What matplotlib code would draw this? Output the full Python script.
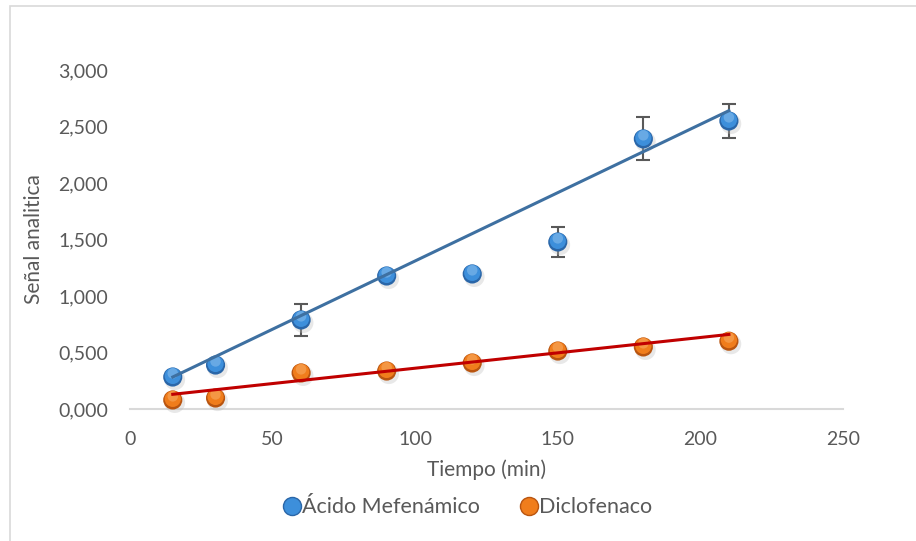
import matplotlib.pyplot as plt
import matplotlib.transforms as mtransforms
from matplotlib.lines import Line2D
from matplotlib.patches import Rectangle

# Data
tiempo = [15, 30, 60, 90, 120, 150, 180, 210]
mefenamico = [0.283, 0.389, 0.788, 1.177, 1.195, 1.478, 2.390, 2.549]
mefenamico_err = [0.0, 0.0, 0.14, 0.0, 0.03, 0.13, 0.19, 0.15]
diclofenaco = [0.080, 0.097, 0.319, 0.336, 0.407, 0.513, 0.549, 0.600]

# Trendlines as drawn in the chart (endpoints)
trend_x = [15, 210]
trend_mefenamico = [0.283, 2.640]
trend_diclofenaco = [0.130, 0.660]

x_ticks = [0, 50, 100, 150, 200, 250]
y_ticks = [0.0, 0.5, 1.0, 1.5, 2.0, 2.5, 3.0]

text_color = '#595959'
plt.rcParams['font.family'] = ['Lato', 'DejaVu Sans']

fig = plt.figure(figsize=(9.16, 5.41), dpi=100)
ax = fig.add_axes([0.1419, 0.244, 0.7784, 0.6266])

# light frame around the chart area
fig.patches.append(Rectangle((10 / 916, -0.1), 1.2, 1 - 6 / 541 + 0.1,
                             transform=fig.transFigure, fill=False,
                             edgecolor='#d9d9d9', linewidth=1.2))


def spheres(ax, x, y, base, dark, light, size=190, z=5):
    """Draw markers that look a bit like shaded balls"""
    ax.scatter(x, y, s=size * 1.15, color='#bfbfbf', alpha=0.35, edgecolors='none',
               zorder=z, transform=mtransforms.offset_copy(ax.transData, fig=fig, x=1.5, y=-2, units='points'),
               clip_on=False)
    ax.scatter(x, y, s=size, color=dark, edgecolors='none', zorder=z + 0.1, clip_on=False)
    ax.scatter(x, y, s=size * 0.72, color=base, edgecolors='none', zorder=z + 0.2, clip_on=False,
               transform=mtransforms.offset_copy(ax.transData, fig=fig, x=0, y=0.8, units='points'))
    ax.scatter(x, y, s=size * 0.3, color=light, edgecolors='none', zorder=z + 0.3, alpha=0.35, clip_on=False,
               transform=mtransforms.offset_copy(ax.transData, fig=fig, x=0, y=2.6, units='points'))


# error bars
ax.errorbar(tiempo, mefenamico, yerr=mefenamico_err, fmt='none', ecolor=text_color,
            elinewidth=1.5, capsize=5, capthick=1.5, zorder=3)

spheres(ax, tiempo, mefenamico, '#3d8fdb', '#2a66a8', '#b9dcf7')
spheres(ax, tiempo, diclofenaco, '#f07d1c', '#b95510', '#fcc98f')

# trendlines
ax.plot(trend_x, trend_mefenamico, color='#3e70a1', linewidth=2.2, zorder=6)
ax.plot(trend_x, trend_diclofenaco, color='#c00000', linewidth=2.2, zorder=6)

ax.set_xlim(0, 250)
ax.set_ylim(0, 3.0)
ax.set_xticks(x_ticks)
ax.set_yticks(y_ticks)
ax.set_yticklabels([f'{v:.3f}'.replace('.', ',') for v in y_ticks])

for side in ['top', 'right', 'left']:
    ax.spines[side].set_visible(False)
ax.spines['bottom'].set_color('#d9d9d9')
ax.spines['bottom'].set_linewidth(1.5)
ax.tick_params(length=0, labelsize=14, labelcolor=text_color)
ax.tick_params(axis='x', pad=16)
ax.tick_params(axis='y', pad=16)

ax.set_xlabel('Tiempo (min)', fontsize=15, color=text_color, labelpad=8)
ax.set_ylabel('Señal analitica', fontsize=15, color=text_color, labelpad=10)

handles = [
    Line2D([], [], linestyle='none', marker='o', markersize=13,
           markerfacecolor='#3d8fdb', markeredgecolor='#2a66a8'),
    Line2D([], [], linestyle='none', marker='o', markersize=13,
           markerfacecolor='#f07d1c', markeredgecolor='#b95510'),
]
leg = fig.legend(handles, ['Ácido Mefenámico', 'Diclofenaco'], loc='center',
                 bbox_to_anchor=(0.512, 0.062), ncol=2, frameon=False,
                 handlelength=0.6, handletextpad=0.15, columnspacing=2.0,
                 fontsize=15.5)
for t in leg.get_texts():
    t.set_color(text_color)

fig.savefig('out.png', dpi=100)
